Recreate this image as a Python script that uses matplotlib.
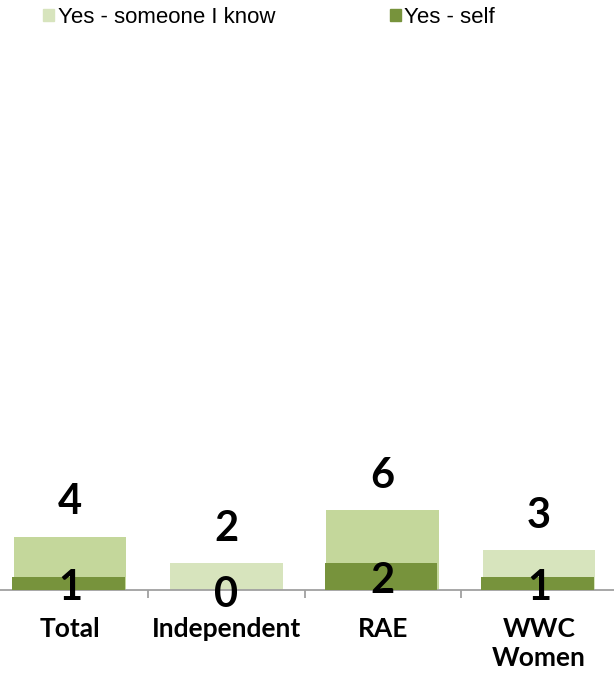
import matplotlib
matplotlib.use('Agg')
import matplotlib.pyplot as plt
from matplotlib import font_manager
from matplotlib.patches import Patch

categories = ['Total', 'Independent', 'RAE', 'WWC\nWomen']
someone_i_know = [4, 2, 6, 3]
self_values = [1, 0, 2, 1]

light_cols = ['#c4d79b', '#d7e4bd', '#c4d79b', '#d7e4bd']
dark_col = '#77933c'

names = {f.name for f in font_manager.fontManager.ttflist}
legend_font = 'Liberation Sans Narrow' if 'Liberation Sans Narrow' in names else 'Liberation Sans'
legend_size = 18.8 if legend_font == 'Liberation Sans Narrow' else 16
bold_font = 'Lato'

W, H = 614, 674
fig = plt.figure(figsize=(W / 100, H / 100), dpi=100)
# plot area: baseline at y=590px, slightly wider than the figure
ax = fig.add_axes([-8 / W, (H - 590) / H, 625 / W, 550 / H])
ax.set_xlim(-0.5, 3.5)
ax.set_ylim(0, 41.25)

x = range(len(categories))
bw = 0.72
ax.bar(x, someone_i_know, width=bw, color=light_cols, zorder=2)
ax.bar([i - 0.01 for i in x], self_values, width=bw, color=dark_col, zorder=3)

for i in x:
    ax.annotate(str(someone_i_know[i]), (i, someone_i_know[i]), xytext=(0, 16),
                textcoords='offset points', ha='center', va='baseline',
                fontsize=30, fontweight='bold', family=bold_font, zorder=5)
    ax.annotate(str(self_values[i]), (i, self_values[i] / 2), xytext=(0, -12),
                textcoords='offset points', ha='center', va='baseline',
                fontsize=30, fontweight='bold', family=bold_font, zorder=5)

for s in ['top', 'right', 'left']:
    ax.spines[s].set_visible(False)
ax.spines['bottom'].set_color('#a0a0a0')
ax.spines['bottom'].set_linewidth(1.3)
ax.set_yticks([])

ax.set_xticks(list(x))
ax.set_xticklabels(categories, fontsize=19, fontweight='bold', family=bold_font,
                   linespacing=1.25)
ax.tick_params(axis='x', which='major', length=0, pad=19.5)
ax.set_xticks([0.5, 1.5, 2.5], minor=True)
ax.tick_params(axis='x', which='minor', length=6, width=1.3, color='#a0a0a0')

handles = [Patch(color='#d7e4bd', label='Yes - someone I know'),
           Patch(color=dark_col, label='Yes - self')]
em = legend_size * 100 / 72
fig.legend(handles=handles, loc='upper left', bbox_to_anchor=(43 / W, 1 - 7 / H),
           ncol=2, frameon=False, borderpad=0, borderaxespad=0,
           handlelength=11 / em, handleheight=11 / em, handletextpad=4 / em,
           columnspacing=114 / em, prop={'family': legend_font, 'size': legend_size})

fig.savefig('out.png', dpi=100)
